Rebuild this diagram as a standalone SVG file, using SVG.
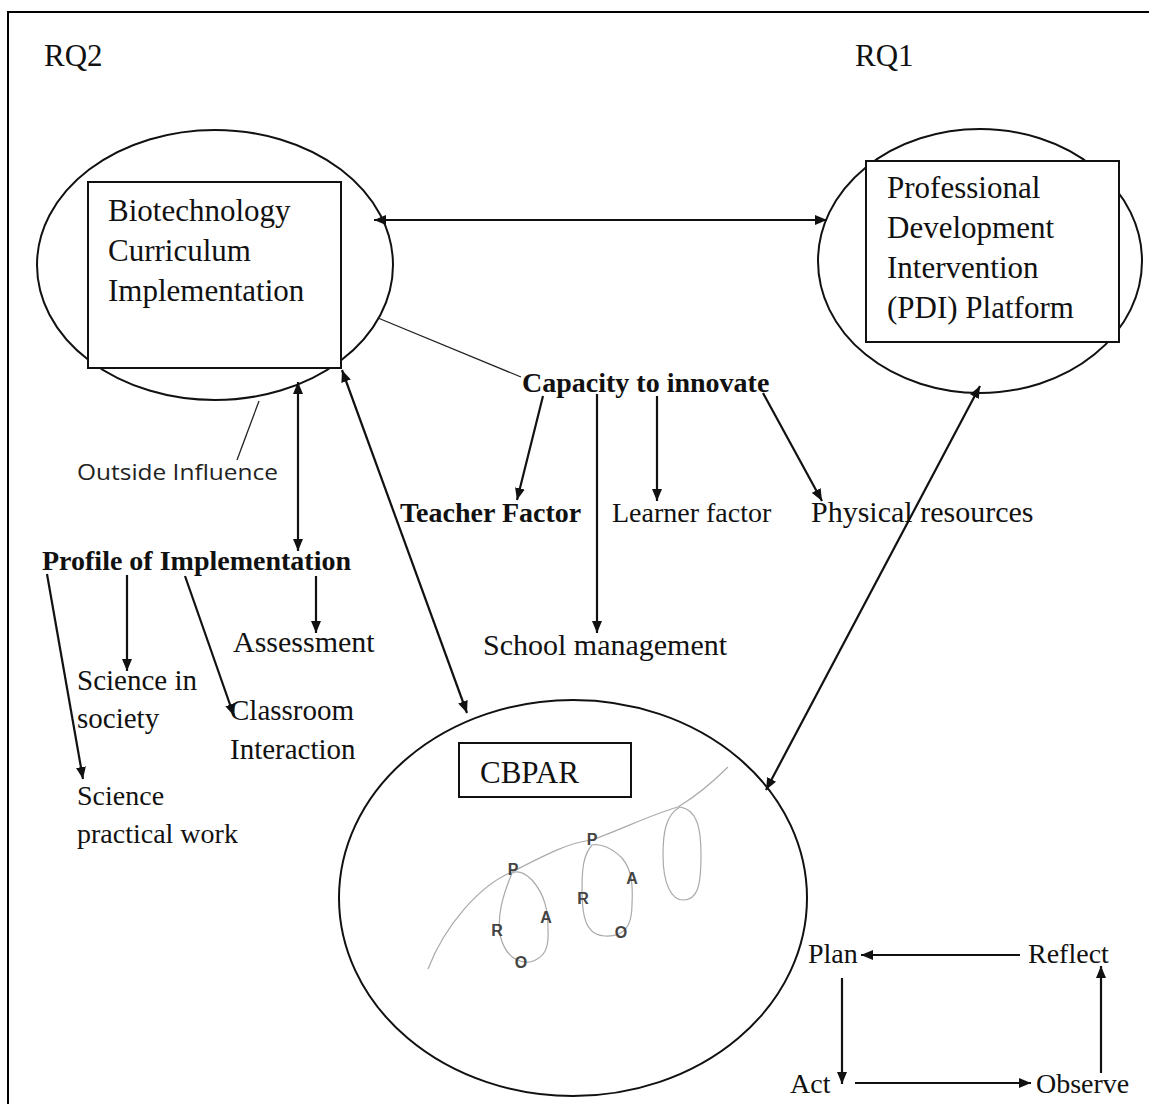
<svg xmlns="http://www.w3.org/2000/svg" width="1149" height="1104" viewBox="0 0 1149 1104">
<defs>
<style>
.t{font-family:"Liberation Serif","Times New Roman",serif;font-size:29px;fill:#111}
.b{font-weight:bold;font-size:28px}
.big{font-size:31px}
.s28{font-size:28px}
.s30{font-size:30px}
.s31{font-size:31px}
.sans{font-family:"Open Sans","Liberation Sans",sans-serif;font-size:22px;fill:#222}
.let{font-family:"Liberation Sans",Arial,sans-serif;font-size:16px;font-weight:bold;fill:#444;text-anchor:middle}
.sh{fill:none;stroke:#111;stroke-width:2}
.box{fill:#fff;stroke:#111;stroke-width:2}
.ln{fill:none;stroke:#111;stroke-width:2.2}
.thin{fill:none;stroke:#222;stroke-width:1.3}
.gray{fill:none;stroke:#aaa;stroke-width:1.2}
.a{marker-end:url(#ah)}
.d{marker-start:url(#ah);marker-end:url(#ah)}
</style>
<marker id="ah" viewBox="0 0 12 10" refX="12" refY="5" markerWidth="12" markerHeight="10" markerUnits="userSpaceOnUse" orient="auto-start-reverse">
<path d="M0,0 L12,5 L0,10 z" fill="#111"/>
</marker>
</defs>
<rect width="1149" height="1104" fill="#fff"/>
<path d="M8,1104 V12 H1149" fill="none" stroke="#000" stroke-width="2"/>
<text class="t s31" x="44" y="66">RQ2</text>
<text class="t s31" x="855" y="66">RQ1</text>

<g id="node-bci">
<ellipse class="sh" cx="215" cy="265" rx="178" ry="135"/>
<rect class="box" x="88" y="182" width="253" height="186"/>
<text class="t big" x="108" y="221">Biotechnology</text>
<text class="t big" x="108" y="261">Curriculum</text>
<text class="t big" x="108" y="301">Implementation</text>
</g>

<g id="node-pdi">
<ellipse class="sh" cx="980" cy="261" rx="162" ry="132"/>
<rect class="box" x="866" y="161" width="253" height="181"/>
<text class="t big" x="887" y="198">Professional</text>
<text class="t big" x="887" y="238">Development</text>
<text class="t big" x="887" y="278">Intervention</text>
<text class="t big" x="887" y="318">(PDI) Platform</text>
</g>

<g id="node-cbpar">
<ellipse class="sh" cx="573" cy="898" rx="234" ry="198"/>
<rect class="box" x="459" y="743" width="172" height="54"/>
<text class="t s31" x="480" y="783">CBPAR</text>
<path class="gray" d="M428,969 C445,925 480,885 512,872 C545,855 570,842 592,840 C625,828 650,815 678,807 C698,795 715,780 728,767"/>
<path class="gray" d="M512,873 C503,895 497,915 500,935 C505,955 515,963 530,962 C545,958 549,948 548,930 C548,910 545,895 532,880 C524,872 518,870 512,873 Z"/>
<path class="gray" d="M592,845 C583,855 582,870 582,890 C582,915 585,935 605,936 C625,937 632,925 632,905 C633,885 632,870 622,858 C612,848 600,843 592,845 Z"/>
<path class="gray" d="M680,807 C665,815 663,835 663,855 C663,885 672,900 683,900 C698,900 701,885 701,855 C701,830 698,810 680,807 Z"/>
<text class="let" x="513" y="875">P</text>
<text class="let" x="497" y="936">R</text>
<text class="let" x="546" y="923">A</text>
<text class="let" x="521" y="968">O</text>
<text class="let" x="592" y="845">P</text>
<text class="let" x="583" y="904">R</text>
<text class="let" x="632" y="884">A</text>
<text class="let" x="621" y="938">O</text>
</g>

<g id="node-capacity"><text class="t b" x="522" y="392">Capacity to innovate</text></g>
<g id="node-teacher"><text class="t b" x="400" y="522">Teacher Factor</text></g>
<g id="node-learner"><text class="t s28" x="612" y="522">Learner factor</text></g>
<g id="node-physical"><text class="t s30" x="811" y="522">Physical resources</text></g>
<g id="node-school"><text class="t s30" x="483" y="655">School management</text></g>
<g id="node-outside"><text class="sans" x="77" y="480" textLength="201" lengthAdjust="spacingAndGlyphs">Outside Influence</text></g>
<g id="node-profile"><text class="t b" x="42" y="570">Profile of Implementation</text></g>
<g id="node-assessment"><text class="t s30" x="233" y="652">Assessment</text></g>
<g id="node-society"><text class="t" x="77" y="690">Science in</text><text class="t" x="77" y="728">society</text></g>
<g id="node-classroom"><text class="t" x="230" y="720">Classroom</text><text class="t" x="230" y="759">Interaction</text></g>
<g id="node-practical"><text class="t s28" x="77" y="805">Science</text><text class="t s28" x="77" y="843">practical work</text></g>
<g id="node-plan"><text class="t s28" x="808" y="963">Plan</text></g>
<g id="node-reflect"><text class="t s28" x="1028" y="963">Reflect</text></g>
<g id="node-act"><text class="t s28" x="790" y="1093">Act</text></g>
<g id="node-observe"><text class="t s28" x="1036" y="1093">Observe</text></g>

<g id="connectors">
<line class="ln d" x1="374" y1="220" x2="827" y2="220"/>
<line class="thin" x1="378" y1="318" x2="521" y2="377"/>
<line class="ln a" x1="543" y1="396" x2="517" y2="500"/>
<line class="ln a" x1="597" y1="394" x2="597" y2="633"/>
<line class="ln a" x1="657" y1="396" x2="657" y2="501"/>
<line class="ln a" x1="763" y1="393" x2="822" y2="501"/>
<line class="ln d" x1="980" y1="386" x2="766" y2="790"/>
<line class="ln d" x1="342" y1="370" x2="467" y2="713"/>
<line class="ln d" x1="298" y1="382" x2="298" y2="551"/>
<line class="thin" x1="259" y1="401" x2="237" y2="460"/>
<line class="ln a" x1="47" y1="574" x2="83" y2="779"/>
<line class="ln a" x1="127" y1="575" x2="127" y2="671"/>
<line class="ln a" x1="185" y1="576" x2="234" y2="716"/>
<line class="ln a" x1="316" y1="576" x2="316" y2="633"/>
<line class="ln a" x1="1020" y1="955" x2="861" y2="955"/>
<line class="ln a" x1="842" y1="978" x2="842" y2="1084"/>
<line class="ln a" x1="855" y1="1083" x2="1031" y2="1083"/>
<line class="ln a" x1="1101" y1="1073" x2="1101" y2="966"/>
</g>
</svg>
